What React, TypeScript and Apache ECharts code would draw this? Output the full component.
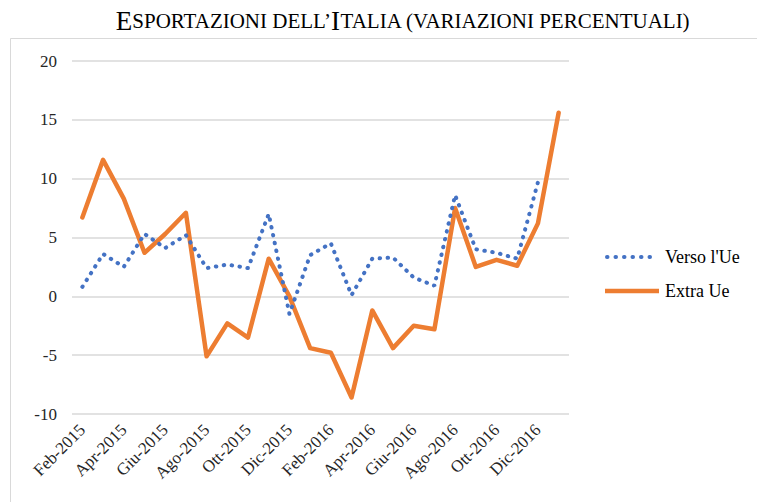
import React, { useEffect, useRef } from "react";
import * as echarts from "echarts";

const categories = [
  "Feb-2015", "Mar-2015", "Apr-2015", "Mag-2015", "Giu-2015", "Lug-2015",
  "Ago-2015", "Set-2015", "Ott-2015", "Nov-2015", "Dic-2015", "Gen-2016",
  "Feb-2016", "Mar-2016", "Apr-2016", "Mag-2016", "Giu-2016", "Lug-2016",
  "Ago-2016", "Set-2016", "Ott-2016", "Nov-2016", "Dic-2016", "Gen-2017",
];

const versoUe: (number | null)[] = [
  0.8, 3.6, 2.5, 5.3, 4.1, 5.2, 2.4, 2.7, 2.4, 7.0, -1.5, 3.5,
  4.5, 0.1, 3.2, 3.3, 1.6, 0.9, 8.6, 4.0, 3.7, 3.2, 9.7, null,
];

const extraUe: number[] = [
  6.7, 11.6, 8.3, 3.7, 5.3, 7.1, -5.1, -2.3, -3.5, 3.2, 0.0, -4.4,
  -4.8, -8.6, -1.2, -4.4, -2.5, -2.8, 7.5, 2.5, 3.1, 2.6, 6.2, 15.6,
];

const seriesNames = ["Verso l'Ue", "Extra Ue"];
const yTicks = { min: -10, max: 20, interval: 5 };

const SERIF = "Liberation Serif";
const BLUE = "#4472C4";
const ORANGE = "#ED7D31";

export default function App() {
  const ref = useRef<HTMLDivElement>(null);
  useEffect(() => {
    if (!ref.current) return;
    const chart = echarts.init(ref.current, undefined, { renderer: "svg" });
    chart.setOption({
      animation: false,
      backgroundColor: "#fff",
      grid: { left: 72, right: 188, top: 61, bottom: 88, containLabel: false },
      graphic: [
        {
          type: "rect",
          shape: { x: 10.5, y: 38.5, width: 800, height: 600 },
          style: { fill: "none", stroke: "#d9d9d9", lineWidth: 1 },
          silent: true,
          z: -1,
        },
        {
          type: "text",
          x: 403,
          y: 21,
          style: {
            text: "{a|E}{b|SPORTAZIONI DELL’}{a|I}{b|TALIA (VARIAZIONI PERCENTUALI)}",
            align: "center",
            verticalAlign: "middle",
            rich: {
              a: { fontSize: 27, fontFamily: SERIF, fill: "#000", color: "#000" },
              b: { fontSize: 21, fontFamily: SERIF, fill: "#000", color: "#000" },
            },
          },
        },
        {
          type: "line",
          shape: { x1: 607, y1: 257, x2: 658, y2: 257 },
          style: { stroke: BLUE, lineWidth: 4, lineDash: [0.5, 8], lineCap: "round" },
        },
        {
          type: "text",
          x: 665,
          y: 257,
          style: {
            text: seriesNames[0],
            fontSize: 18,
            fontFamily: SERIF,
            fill: "#000",
            verticalAlign: "middle",
            align: "left",
          },
        },
        {
          type: "line",
          shape: { x1: 605, y1: 291, x2: 659, y2: 291 },
          style: { stroke: ORANGE, lineWidth: 4.5 },
        },
        {
          type: "text",
          x: 665,
          y: 291,
          style: {
            text: seriesNames[1],
            fontSize: 18,
            fontFamily: SERIF,
            fill: "#000",
            verticalAlign: "middle",
            align: "left",
          },
        },
      ],
      xAxis: {
        type: "category",
        data: categories,
        boundaryGap: true,
        axisLine: { show: false },
        axisTick: { show: false },
        axisLabel: {
          interval: 1,
          rotate: 45,
          margin: 13,
          fontSize: 17,
          fontFamily: SERIF,
          color: "#262626",
        },
      },
      yAxis: {
        type: "value",
        min: yTicks.min,
        max: yTicks.max,
        interval: yTicks.interval,
        axisLine: { show: false },
        axisTick: { show: false },
        axisLabel: { fontSize: 17, fontFamily: SERIF, color: "#262626", margin: 15 },
        splitLine: { lineStyle: { color: "#d9d9d9", width: 1.5 } },
      },
      series: [
        {
          name: seriesNames[0],
          type: "line",
          data: versoUe,
          symbol: "none",
          connectNulls: false,
          lineStyle: { color: BLUE, width: 4, type: [0.5, 7.5], cap: "round" },
          itemStyle: { color: BLUE },
          z: 3,
        },
        {
          name: seriesNames[1],
          type: "line",
          data: extraUe,
          symbol: "none",
          lineStyle: { color: ORANGE, width: 4.5, cap: "round", join: "round" },
          itemStyle: { color: ORANGE },
          z: 2,
        },
      ],
    });
    return () => chart.dispose();
  }, []);
  return (
    <div
      ref={ref}
      style={{ position: "fixed", left: 0, top: 0, width: 757, height: 502 }}
    />
  );
}
